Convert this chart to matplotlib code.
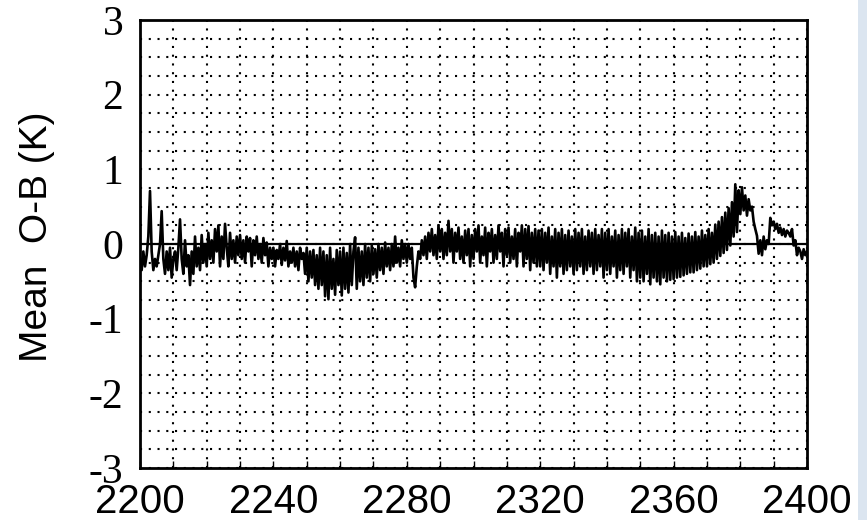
import numpy as np
import matplotlib
matplotlib.use("Agg")
import matplotlib.pyplot as plt
from matplotlib.ticker import MultipleLocator
from matplotlib.patches import Rectangle

# Wavenumber (cm^-1), sampled every 0.5
wavenumber = np.arange(2200.0, 2400.01, 0.5)

# Mean O-B (K), 10 values per 5 cm^-1
ob_2200_2250 = [
    -0.20, -0.35, -0.10, -0.30, -0.15, 0.10, 0.71, -0.10, -0.35, -0.20,
    -0.30, -0.15, 0.00, 0.44, -0.20, -0.40, -0.10, -0.35, -0.05, -0.45,
    -0.20, -0.10, -0.35, -0.05, 0.33, -0.20, -0.40, 0.05, -0.30, -0.15,
    -0.55, -0.10, -0.40, 0.10, -0.30, -0.05, -0.35, 0.12, -0.25, 0.00,
    -0.30, 0.15, -0.20, 0.05, -0.25, 0.20, -0.10, 0.25, -0.30, 0.10,
    -0.20, 0.27, -0.05, -0.30, 0.15, -0.20, 0.05, -0.25, 0.10, -0.15,
    0.12, -0.20, 0.05, -0.25, 0.10, -0.10, 0.08, -0.30, 0.05, -0.15,
    0.10, -0.20, 0.00, -0.25, 0.08, -0.15, 0.02, -0.30, -0.05, -0.20,
    -0.05, -0.30, -0.08, -0.20, 0.00, -0.28, -0.05, -0.22, 0.04, -0.30,
    -0.10, -0.25, -0.05, -0.30, -0.10, -0.35, -0.05, -0.20, -0.12, -0.40,
]
ob_2250_2300 = [
    -0.05, -0.50, -0.10, -0.45, -0.08, -0.55, -0.15, -0.60, -0.05, -0.55,
    -0.10, -0.70, -0.15, -0.74, -0.05, -0.60, -0.20, -0.68, -0.08, -0.55,
    -0.10, -0.69, -0.05, -0.60, -0.12, -0.65, 0.00, -0.55, -0.10, 0.09,
    -0.60, -0.05, -0.50, -0.10, -0.55, 0.00, -0.45, -0.05, -0.50, -0.02,
    -0.40, -0.07, -0.45, 0.00, -0.35, -0.05, -0.40, 0.02, -0.30, -0.05,
    -0.35, 0.00, -0.30, 0.10, -0.25, -0.05, -0.30, 0.05, -0.20, 0.00,
    -0.25, 0.00, -0.20, -0.05, -0.45, -0.58, -0.30, -0.10, -0.20, 0.05,
    -0.15, 0.10, -0.20, 0.15, -0.10, 0.20, -0.15, 0.12, -0.20, 0.25,
    -0.10, 0.20, -0.20, 0.15, -0.15, 0.31, -0.10, 0.20, -0.25, 0.15,
    -0.10, 0.22, -0.20, 0.10, -0.25, 0.18, -0.15, 0.20, -0.30, 0.12,
]
ob_2300_2350 = [
    -0.20, 0.20, -0.10, 0.25, -0.25, 0.10, -0.15, 0.22, -0.30, 0.15,
    -0.10, 0.20, -0.25, 0.12, -0.20, 0.25, -0.10, 0.15, -0.30, 0.20,
    -0.15, 0.22, -0.25, 0.10, -0.20, 0.20, -0.30, 0.15, -0.10, 0.25,
    -0.30, 0.20, -0.20, 0.24, -0.35, 0.15, -0.25, 0.20, -0.30, 0.18,
    -0.30, 0.20, -0.35, 0.15, -0.25, 0.22, -0.40, 0.10, -0.30, 0.20,
    -0.45, 0.15, -0.30, 0.20, -0.40, 0.12, -0.35, 0.18, -0.30, 0.10,
    -0.40, 0.20, -0.35, 0.15, -0.30, 0.20, -0.40, 0.10, -0.35, 0.18,
    -0.30, 0.15, -0.40, 0.20, -0.35, 0.12, -0.30, 0.20, -0.45, 0.15,
    -0.35, 0.20, -0.40, 0.10, -0.30, 0.18, -0.45, 0.12, -0.35, 0.20,
    -0.40, 0.15, -0.30, 0.20, -0.45, 0.10, -0.35, 0.22, -0.50, 0.15,
]
ob_2350_2400 = [
    -0.45, 0.18, -0.50, 0.10, -0.40, 0.20, -0.54, 0.12, -0.45, 0.15,
    -0.50, 0.10, -0.54, 0.18, -0.45, 0.12, -0.50, 0.15, -0.48, 0.10,
    -0.47, 0.16, -0.45, 0.10, -0.44, 0.15, -0.42, 0.08, -0.40, 0.14,
    -0.38, 0.10, -0.38, 0.16, -0.35, 0.10, -0.33, 0.18, -0.30, 0.12,
    -0.30, 0.20, -0.27, 0.15, -0.25, 0.26, -0.20, 0.30, -0.16, 0.36,
    -0.12, 0.42, -0.08, 0.48, -0.02, 0.56, 0.10, 0.80, 0.16, 0.72,
    0.40, 0.76, 0.45, 0.65, 0.38, 0.60, 0.45, 0.50, 0.30, 0.20,
    0.11, -0.13, 0.05, -0.15, 0.10, -0.07, 0.05, 0.00, 0.35, 0.25,
    0.30, 0.20, 0.27, 0.15, 0.22, 0.12, 0.20, 0.10, 0.18, 0.15,
    0.10, 0.20, -0.02, 0.05, -0.15, -0.05, -0.10, -0.20, -0.07, -0.15,
    -0.10,
]
mean_ob = np.array(ob_2200_2250 + ob_2250_2300 + ob_2300_2350 + ob_2350_2400)

x_ticks = [2200, 2240, 2280, 2320, 2360, 2400]
y_ticks = [-3, -2, -1, 0, 1, 2, 3]

W, H = 867, 520
fig = plt.figure(figsize=(W / 100, H / 100), dpi=100)
fig.patch.set_facecolor("white")
ax = fig.add_axes([140 / W, 1 - 468 / H, (807 - 140) / W, (468 - 20) / H])

# dotted grid
ax.xaxis.set_minor_locator(MultipleLocator(10))
ax.yaxis.set_minor_locator(MultipleLocator(0.25))
ax.grid(which="both", color="black", linestyle=(0, (1, 3.2)), linewidth=1.5)
ax.set_axisbelow(True)

ax.axhline(0, color="black", linewidth=1.6, zorder=2)
ax.plot(wavenumber, mean_ob, color="black", linewidth=1.9, zorder=3)

ax.set_xlim(2200, 2400)
ax.set_ylim(-3, 3)
ax.set_xticks(x_ticks)
ax.set_yticks(y_ticks)
ax.set_xticklabels([str(v) for v in x_ticks],
                   family=["Liberation Sans Narrow", "Liberation Sans", "DejaVu Sans"],
                   fontsize=29)
ax.set_yticklabels([str(v) for v in y_ticks],
                   family=["Liberation Serif", "DejaVu Serif"], fontsize=30)
ax.tick_params(axis="x", which="both", direction="in", length=5, width=1,
               pad=11, top=False)
ax.tick_params(axis="y", which="both", length=0, pad=12)

for s in ax.spines.values():
    s.set_linewidth(2.0)
    s.set_color("black")

fig.text(37 / W, 1 - 237 / H, "Mean  O-B (K)", rotation=90,
         family=["Liberation Sans", "DejaVu Sans"], fontsize=28,
         ha="center", va="center")

# pale strip at the right edge of the picture
fig.patches.append(Rectangle((858 / W, 0), 9 / W, 1, transform=fig.transFigure,
                             facecolor="#dbe5f0", edgecolor="none"))

fig.savefig("out.png", dpi=100)
